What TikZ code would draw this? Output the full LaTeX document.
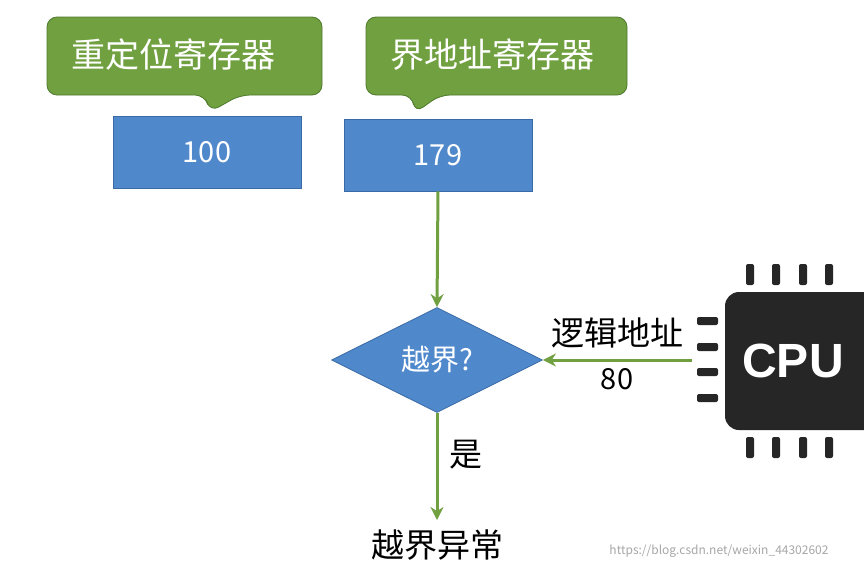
\documentclass[tikz,border=0pt]{standalone}
\usepackage{fontspec}
\setmainfont{Noto Sans CJK SC}
\newfontfamily\cpufont{Liberation Sans}
\usetikzlibrary{arrows.meta,shapes.geometric}
\definecolor{gfill}{HTML}{70A040}
\definecolor{gdraw}{HTML}{4E7A2C}
\definecolor{bfill}{HTML}{5088CC}
\definecolor{bdraw}{HTML}{3A6AA6}
\definecolor{chip}{HTML}{262626}
\tikzset{
  callout/.style={fill=gfill,draw=gdraw,line width=0.8pt,rounded corners=10pt},
  reg/.style={fill=bfill,draw=bdraw,line width=0.8pt,minimum width=188pt,minimum height=72pt,text=white,font=\fontsize{29}{31}\selectfont,inner sep=0},
  conn/.style={draw=gfill,line width=3pt,-{Stealth[length=13pt,width=13pt]}},
  lbl/.style={font=\fontsize{33}{35}\selectfont},
  pin/.style={fill=chip,rounded corners=2pt}
}
\begin{document}
\begin{tikzpicture}[x=1pt,y=-1pt]
\useasboundingbox (0,0) rectangle (864,570);
\draw[callout] (47,17) -- (322,17) -- (322,95) -- (240,95) -- (210,112) -- (205,95) -- (47,95) -- cycle;
\node[text=white,font=\fontsize{34}{36}\selectfont] (c1) at (173,55) {重定位寄存器};
\draw[callout] (366,17) -- (627,17) -- (627,95) -- (440,95) -- (415,113) -- (412,95) -- (366,95) -- cycle;
\node[text=white,font=\fontsize{34}{36}\selectfont] (c2) at (492,55) {界地址寄存器};
\node[reg] (r1) at (207,152) {100};
\node[reg] (r2) at (438,155) {179};
\node[diamond,aspect=2,fill=bfill,draw=bdraw,line width=0.8pt,minimum width=211pt,minimum height=105pt,inner sep=0,text=white,font=\fontsize{29}{31}\selectfont] (d) at (437,360) {越界?};
\fill[chip,rounded corners=14pt] (725,292) rectangle (880,430);
\node[text=white,font=\fontsize{48}{50}\selectfont\bfseries\cpufont] (cpu) at (793,361) {CPU};
\foreach \x in {750,776,803,829}{
  \fill[pin] (\x-4,264) rectangle (\x+4,285);
  \fill[pin] (\x-4,437) rectangle (\x+4,458);
}
\foreach \y in {321,347,372,398}{
  \fill[pin] (697,\y-4) rectangle (718,\y+4);
}
\coordinate (cpuL) at (692,360);
\node[lbl] (ex) at (437,545) {越界异常};
\coordinate (exT) at (437,520);
\draw[conn] (r2.south) -- (d.north);
\draw[conn] (cpuL) -- (d.east);
\draw[conn] (d.south) -- (exT);
\node[lbl] (l1) at (617,333) {逻辑地址};
\node[lbl,font=\fontsize{29}{31}\selectfont] (l2) at (617,379) {80};
\node[lbl] (l3) at (466,455) {是};
\node[text=gray!70,font=\fontsize{12}{13}\selectfont] (wm) at (719,551) {https://blog.csdn.net/weixin\_44302602};
\end{tikzpicture}
\end{document}
